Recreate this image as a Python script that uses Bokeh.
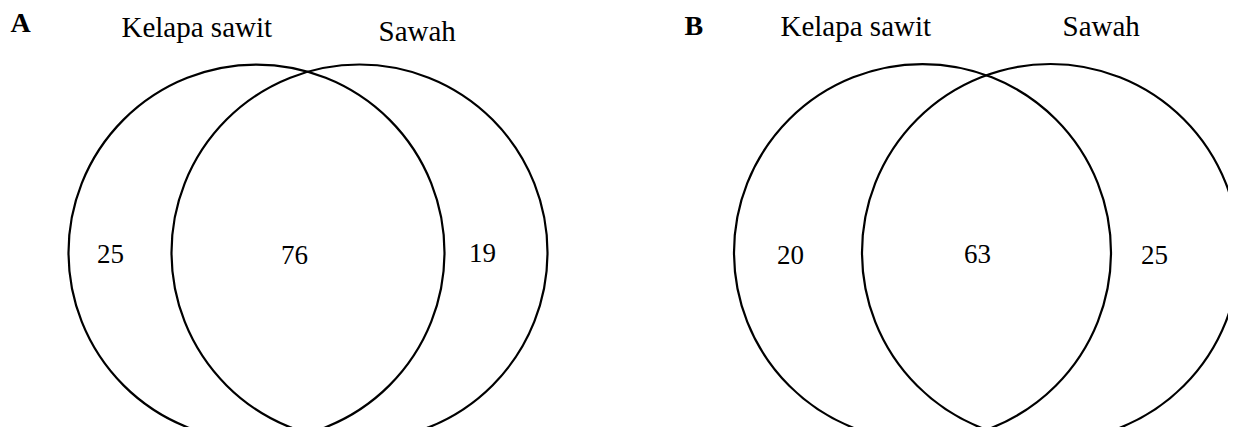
from bokeh.plotting import figure
from bokeh.models import Range1d, ColumnDataSource
from bokeh.core.properties import value
from bokeh.embed import file_html
from bokeh.resources import INLINE

# ---- data ----
panels = ["A", "B"]
set_labels = ["Kelapa sawit", "Sawah"]
only_left = [25, 20]      # Kelapa sawit only
both = [76, 63]           # shared
only_right = [19, 25]     # Sawah only

# ---- layout (pixel coordinates of the picture) ----
W, H = 1228, 427
circle_cy = [252, 252]
circle_r = [188, 188.5]
left_cx = [256, 922]
right_cx = [359, 1050]
panel_letter_x = [10, 684]
panel_letter_base = [22, 25]
label_left_x = [[121, 378], [780, 1062]]
label_base = [[26, 30], [25, 25]]
num_x = [[110, 294, 482], [790, 977, 1154]]
num_base = [[253, 254, 252], [254, 253, 254]]

p = figure(width=W, height=H, output_backend="svg", toolbar_location=None,
           x_range=Range1d(0, W), y_range=Range1d(H, 0),
           min_border=0)
p.axis.visible = False
p.grid.visible = False
p.outline_line_color = None
p.background_fill_color = "white"
p.border_fill_color = "white"

cx, cy, rr = [], [], []
for i in range(len(panels)):
    cx += [left_cx[i], right_cx[i]]
    cy += [circle_cy[i], circle_cy[i]]
    rr += [circle_r[i], circle_r[i]]
p.circle(x="x", y="y", radius="r", source=ColumnDataSource(dict(x=cx, y=cy, r=rr)),
         fill_alpha=0, line_color="black", line_width=2.2)

serif = value("Liberation Serif")

# panel letters
p.text(x=panel_letter_x, y=panel_letter_base, text=panels, text_font=serif,
       text_font_size="28px", text_font_style="bold", text_color="black",
       text_align="left", text_baseline="alphabetic")

# set labels
lx, ly, lt = [], [], []
for i in range(len(panels)):
    for j, lab in enumerate(set_labels):
        lx.append(label_left_x[i][j]); ly.append(label_base[i][j]); lt.append(lab)
p.text(x=lx, y=ly, text=lt, text_font=serif, text_font_size="29px",
       text_color="black", text_align="left", text_baseline="alphabetic")

# counts
nx, ny, nt = [], [], []
for i in range(len(panels)):
    vals = [only_left[i], both[i], only_right[i]]
    for j, v in enumerate(vals):
        nx.append(num_x[i][j]); ny.append(num_base[i][j]); nt.append(str(v))
p.text(x=nx, y=ny, text=nt, text_font=serif, text_font_size="27px",
       text_color="black", text_align="center", text_baseline="alphabetic")

open("out.html", "w").write(file_html(p, INLINE))
